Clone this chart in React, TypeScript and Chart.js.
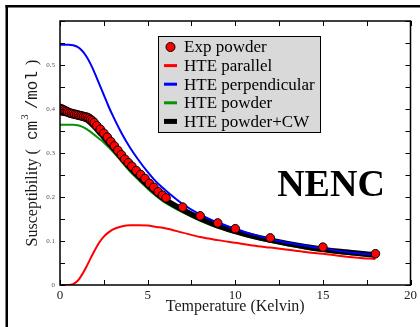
import React, { useEffect, useRef } from 'react';
import { Chart, registerables } from 'chart.js';

Chart.register(...registerables);

// ---------- data ----------
const expT = [0.05, 0.15, 0.25, 0.35, 0.45, 0.55, 0.65, 0.75, 0.85, 0.95, 1.05, 1.15, 1.25, 1.35, 1.45, 1.55, 1.65, 1.75, 1.85, 1.95, 2.1, 2.3, 2.5, 2.7, 2.9, 3.1, 3.3, 3.5, 3.7, 3.9, 4.1, 4.35, 4.6, 4.85, 5.1, 5.35, 5.6, 5.85, 6.05, 7.0, 8.0, 9.0, 10.0, 12.0, 15.0, 18.0];
const expChi = [0.401, 0.399, 0.397, 0.395, 0.393, 0.391, 0.390, 0.389, 0.388, 0.387, 0.386, 0.385, 0.384, 0.383, 0.382, 0.381, 0.379, 0.376, 0.373, 0.369, 0.362, 0.354, 0.345, 0.336, 0.326, 0.316, 0.306, 0.296, 0.286, 0.278, 0.270, 0.260, 0.251, 0.242, 0.231, 0.222, 0.212, 0.204, 0.198, 0.177, 0.157, 0.141, 0.128, 0.107, 0.086, 0.071];

const hteT = [0, 0.25, 0.5, 0.75, 1.0, 1.25, 1.5, 1.75, 2.0, 2.25, 2.5, 2.75, 3.0, 3.5, 4.0, 4.5, 5.0, 5.5, 6.0, 7, 8, 9, 10, 11, 12, 13, 14, 15, 16, 17, 18];
const hteParallel = [0, 0, 0, 0.002, 0.009, 0.023, 0.041, 0.061, 0.080, 0.097, 0.110, 0.119, 0.126, 0.133, 0.136, 0.136, 0.135, 0.132, 0.129, 0.119, 0.109, 0.102, 0.096, 0.090, 0.085, 0.080, 0.075, 0.071, 0.066, 0.062, 0.059];
const htePerpendicular = [0.546, 0.546, 0.546, 0.545, 0.541, 0.533, 0.520, 0.502, 0.480, 0.456, 0.432, 0.408, 0.386, 0.346, 0.312, 0.283, 0.257, 0.234, 0.216, 0.184, 0.160, 0.142, 0.128, 0.115, 0.104, 0.096, 0.089, 0.083, 0.077, 0.072, 0.068];
const htePowder = [0.364, 0.364, 0.364, 0.364, 0.363, 0.360, 0.355, 0.348, 0.340, 0.332, 0.324, 0.314, 0.304, 0.281, 0.258, 0.238, 0.219, 0.202, 0.187, 0.165, 0.146, 0.130, 0.118, 0.107, 0.098, 0.090, 0.083, 0.077, 0.072, 0.068, 0.064];
const htePowderCW = [0.392, 0.390, 0.388, 0.386, 0.384, 0.381, 0.376, 0.368, 0.358, 0.347, 0.336, 0.324, 0.313, 0.289, 0.266, 0.246, 0.227, 0.209, 0.194, 0.171, 0.151, 0.135, 0.122, 0.111, 0.102, 0.094, 0.087, 0.081, 0.076, 0.072, 0.068];

const legendLabels = ['Exp powder', 'HTE parallel', 'HTE perpendicular', 'HTE powder', 'HTE powder+CW'];
const xTickValues = [0, 5, 10, 15, 20];
const yTickValues = [0, 0.1, 0.2, 0.3, 0.4, 0.5];
const xTickMarks = [0, 2.5, 5, 7.5, 10, 12.5, 15, 17.5, 20];
const yTickMarks = [0, 0.05, 0.1, 0.15, 0.2, 0.25, 0.3, 0.35, 0.4, 0.45, 0.5, 0.55, 0.6];
const xTitle = 'Temperature (Kelvin)';
const annotation = 'NENC';

const RED = '#ff0000';
const BLUE = '#0000ff';
const GREEN = '#0a8f0a';
const BLACK = '#000000';
const SERIF = '"Liberation Serif", "Times New Roman", serif';
const MONO = '"Liberation Mono", "DejaVu Sans Mono", monospace';

const pts = (xs: number[], ys: number[]) => xs.map((x, i) => ({ x, y: ys[i] }));

const decorPlugin = {
  id: 'decor',
  afterDraw(chart: any) {
    const ctx = chart.ctx as CanvasRenderingContext2D;
    const { left, right, top, bottom } = chart.chartArea;
    const xs = chart.scales.x;
    const ys = chart.scales.y;
    ctx.save();
    // outer frame (top and left)
    ctx.fillStyle = '#000';
    ctx.fillRect(5.5, 5, 415, 2.5);
    ctx.fillRect(5.5, 5, 2.5, 322);

    // plot frame
    ctx.strokeStyle = '#000';
    ctx.lineWidth = 1.5;
    ctx.strokeRect(left, top, right - left, bottom - top);
    // tick marks (inward)
    ctx.lineWidth = 1;
    ctx.beginPath();
    xTickMarks.forEach((v) => {
      const px = Math.round(xs.getPixelForValue(v)) + 0.5;
      ctx.moveTo(px, bottom);
      ctx.lineTo(px, bottom - 5);
      ctx.moveTo(px, top);
      ctx.lineTo(px, top + 5);
    });
    yTickMarks.forEach((v) => {
      const py = Math.round(ys.getPixelForValue(v)) + 0.5;
      ctx.moveTo(left, py);
      ctx.lineTo(left + 5, py);
      ctx.moveTo(right, py);
      ctx.lineTo(right - 5, py);
    });
    ctx.stroke();

    // x title
    ctx.fillStyle = '#1a1a1a';
    ctx.font = `16px ${SERIF}`;
    ctx.textAlign = 'center';
    ctx.textBaseline = 'middle';
    ctx.fillText(xTitle, (left + right) / 2, 307);

    // y title (rotated, with superscript)
    ctx.save();
    ctx.translate(33, (top + bottom) / 2);
    ctx.rotate(-Math.PI / 2);
    ctx.textAlign = 'left';
    ctx.textBaseline = 'middle';
    const pieces: { t: string; f: string; dy: number; gap: number }[] = [
      { t: 'Susceptibility (', f: `16px ${SERIF}`, dy: 0, gap: 9 },
      { t: 'cm', f: `16px ${MONO}`, dy: 0, gap: 1 },
      { t: '3', f: `11px ${SERIF}`, dy: -8, gap: 5 },
      { t: '/mol', f: `16px ${MONO}`, dy: 0, gap: 6 },
      { t: ')', f: `16px ${SERIF}`, dy: 0, gap: 0 },
    ];
    let total = 0;
    pieces.forEach((p) => {
      ctx.font = p.f;
      total += ctx.measureText(p.t).width + p.gap;
    });
    let cx = -total / 2;
    pieces.forEach((p) => {
      ctx.font = p.f;
      ctx.fillText(p.t, cx, p.dy);
      cx += ctx.measureText(p.t).width + p.gap;
    });
    ctx.restore();

    // NENC annotation
    ctx.fillStyle = '#000';
    ctx.font = `bold 38px ${SERIF}`;
    ctx.textAlign = 'center';
    ctx.textBaseline = 'alphabetic';
    ctx.fillText(annotation, 331, 196);

    // legend
    const lx = 158, ly = 36, lw = 162, lh = 96;
    ctx.fillStyle = '#d9d9d9';
    ctx.fillRect(lx, ly, lw, lh);
    ctx.strokeStyle = '#000';
    ctx.lineWidth = 1;
    ctx.strokeRect(lx + 0.5, ly + 0.5, lw, lh);
    const colors = [RED, RED, BLUE, GREEN, BLACK];
    ctx.font = `17px ${SERIF}`;
    ctx.textAlign = 'left';
    ctx.textBaseline = 'middle';
    legendLabels.forEach((lab, i) => {
      const y = 47 + i * 18.6;
      if (i === 0) {
        ctx.beginPath();
        ctx.arc(170.5, y, 4.5, 0, Math.PI * 2);
        ctx.fillStyle = RED;
        ctx.fill();
        ctx.strokeStyle = '#000';
        ctx.lineWidth = 1;
        ctx.stroke();
      } else {
        ctx.fillStyle = colors[i];
        const th = i === 4 ? 5 : 3;
        ctx.fillRect(164, y - th / 2, 13, th);
      }
      ctx.fillStyle = '#000';
      ctx.fillText(lab, 184, y + 1);
    });
    ctx.restore();
  },
};

export default function App() {
  const ref = useRef<HTMLCanvasElement | null>(null);
  useEffect(() => {
    if (!ref.current) return;
    const chart = new Chart(ref.current, {
      type: 'line',
      data: {
        datasets: [
          {
            label: legendLabels[0],
            data: pts(expT, expChi),
            showLine: false,
            pointRadius: 4.3,
            pointBackgroundColor: RED,
            pointBorderColor: '#000',
            pointBorderWidth: 1,
            order: 0,
          },
          {
            label: legendLabels[2],
            data: pts(hteT, htePerpendicular),
            borderColor: BLUE,
            borderWidth: 2,
            pointRadius: 0,
            cubicInterpolationMode: 'monotone',
            order: 1,
          },
          {
            label: legendLabels[1],
            data: pts(hteT, hteParallel),
            borderColor: RED,
            borderWidth: 2,
            pointRadius: 0,
            cubicInterpolationMode: 'monotone',
            order: 2,
          },
          {
            label: legendLabels[4],
            data: pts(hteT, htePowderCW),
            borderColor: BLACK,
            borderWidth: 5.5,
            pointRadius: 0,
            cubicInterpolationMode: 'monotone',
            order: 3,
          },
          {
            label: legendLabels[3],
            data: pts(hteT, htePowder),
            borderColor: GREEN,
            borderWidth: 2,
            pointRadius: 0,
            cubicInterpolationMode: 'monotone',
            order: 4,
          },
        ],
      },
      options: {
        responsive: false,
        animation: false,
        devicePixelRatio: 1,
        layout: { padding: { left: 0, right: 9, top: 21, bottom: 0 } },
        plugins: { legend: { display: false }, tooltip: { enabled: false } },
        scales: {
          x: {
            type: 'linear',
            min: 0,
            max: 20,
            grid: { display: false, drawTicks: false },
            border: { display: false },
            afterFit: (s: any) => { s.height = 42; },
            afterBuildTicks: (s: any) => { s.ticks = xTickValues.map((v) => ({ value: v })); },
            ticks: {
              font: { family: SERIF, size: 13 },
              color: '#222',
              padding: 3,
              maxRotation: 0,
              callback: (v: any) => String(v),
            },
          },
          y: {
            type: 'linear',
            min: 0,
            max: 0.6,
            grid: { display: false, drawTicks: false },
            border: { display: false },
            afterFit: (s: any) => { s.width = 60; },
            afterBuildTicks: (s: any) => { s.ticks = yTickValues.map((v) => ({ value: v })); },
            ticks: {
              font: { family: SERIF, size: 7 },
              color: '#555',
              padding: 5,
              callback: (v: any) => String(Number(Number(v).toFixed(2))),
            },
          },
        },
      },
      plugins: [decorPlugin],
    } as any);
    return () => chart.destroy();
  }, []);
  return (
    <div style={{ position: 'fixed', left: 0, top: 0, width: 420, height: 327, background: '#fff' }}>
      <canvas ref={ref} width={420} height={327} style={{ width: 420, height: 327, display: 'block' }} />
    </div>
  );
}
